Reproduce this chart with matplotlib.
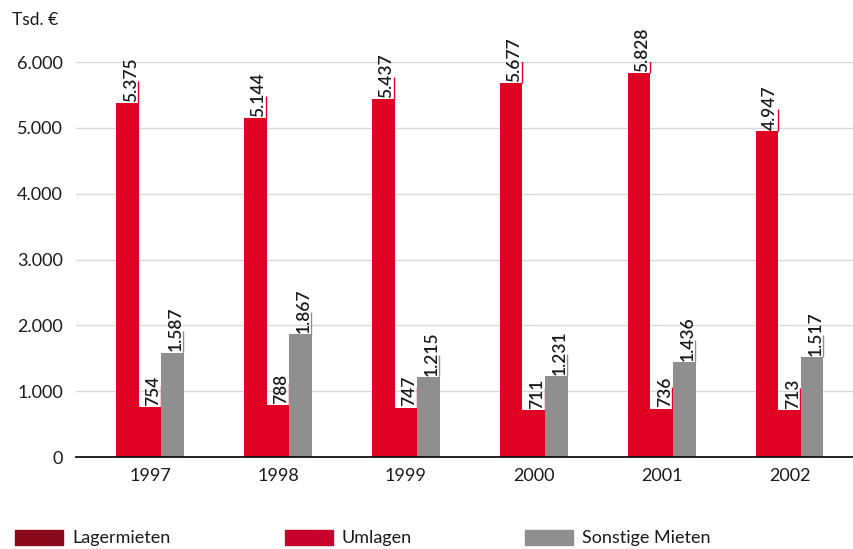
import numpy as np
import matplotlib
matplotlib.use("Agg")
import matplotlib.pyplot as plt
from matplotlib.patches import Rectangle

plt.rcParams['font.family'] = ['Lato', 'DejaVu Sans']

# Daten (Tsd. €)
jahre = ['1997', '1998', '1999', '2000', '2001', '2002']
lagermieten = [5375, 5144, 5437, 5677, 5828, 4947]
umlagen = [754, 788, 747, 711, 736, 713]
sonstige = [1587, 1867, 1215, 1231, 1436, 1517]
reihen = ['Lagermieten', 'Umlagen', 'Sonstige Mieten']

balken_farben = ['#e00024', '#e00024', '#8f8f8f']
legende_farben = ['#8a0a1c', '#c8002c', '#8f8f8f']
textfarbe = '#1a1a1a'

W, H = 854, 549
fig = plt.figure(figsize=(W / 100, H / 100), dpi=100)
ax = fig.add_axes([76 / W, 1 - 457 / H, (W - 76) / W, (457 - 62) / H])

x = np.arange(len(jahre))
breite = 0.177
ax.set_xlim(-0.579, 5.504)
ax.set_ylim(0, 6000)

# Höhe des kleinen Strichs über den Balken (ca. 22 px) in Datenkoordinaten
strich = 22 / (457 - 62) * 6000

for i, werte in enumerate([lagermieten, umlagen, sonstige]):
    pos = x + (i - 1) * breite
    ax.bar(pos, werte, width=breite, color=balken_farben[i], zorder=2)
    for xp, v in zip(pos, werte):
        xr = xp + breite / 2
        ax.plot([xr - 0.004, xr - 0.004], [v, v + strich], color=balken_farben[i],
                lw=1, zorder=2, solid_capstyle='butt')
        ax.annotate(f'{v:,}'.replace(',', '.'), xy=(xr, v), xytext=(0, 1),
                    textcoords='offset points', rotation=90, ha='right', va='bottom',
                    fontsize=12.5, fontweight='semibold', color=textfarbe, zorder=3)

ax.set_yticks(np.arange(0, 6001, 1000))
ax.set_yticklabels([f'{t:,}'.replace(',', '.') for t in range(0, 6001, 1000)])
ax.set_xticks(x)
ax.set_xticklabels(jahre)
ax.tick_params(axis='both', length=0, labelsize=13, labelcolor=textfarbe)
ax.tick_params(axis='y', pad=9.5)
ax.tick_params(axis='x', pad=8)

ax.grid(axis='y', color='#d9d9d9', lw=1)
ax.set_axisbelow(True)
for s in ['top', 'right', 'left']:
    ax.spines[s].set_visible(False)
ax.spines['bottom'].set_color('#111111')
ax.spines['bottom'].set_linewidth(1.3)
ax.spines['bottom'].set_zorder(4)

fig.text(12 / W, 1 - 20 / H, 'Tsd. €', ha='left', va='center', fontsize=12.5, color=textfarbe)

# Legende unten
leg_x = [15, 285, 525]
for lx, name, farbe in zip(leg_x, reihen, legende_farben):
    fig.add_artist(Rectangle((lx / W, 1 - 545 / H), 48 / W, 15 / H,
                             transform=fig.transFigure, color=farbe))
    fig.text((lx + 57) / W, 1 - 538 / H, name, ha='left', va='center',
             fontsize=13, color=textfarbe)

fig.savefig('out.png', dpi=100)
